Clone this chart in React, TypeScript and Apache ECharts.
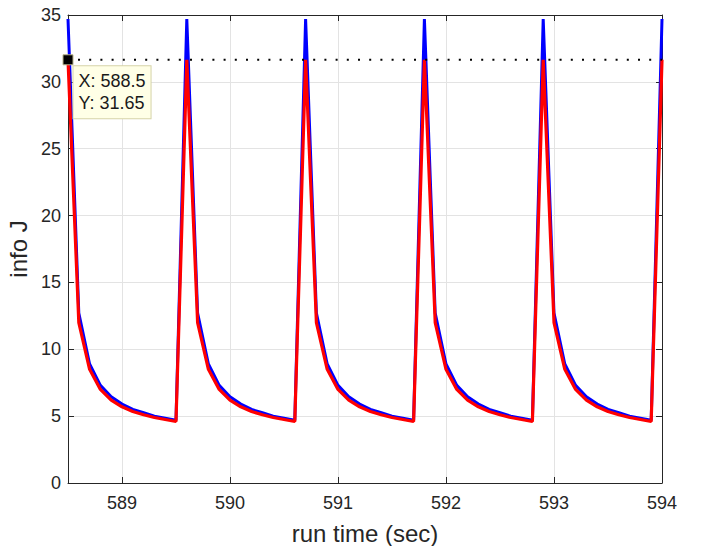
import React, { useEffect, useRef } from "react";
import * as echarts from "echarts";

const time = [
  588.5, 588.6, 588.7, 588.8, 588.9, 589.0, 589.1, 589.2, 589.3, 589.4, 589.5,
  589.6, 589.7, 589.8, 589.9, 590.0, 590.1, 590.2, 590.3, 590.4, 590.5,
  590.6, 590.7, 590.8, 590.9, 591.0, 591.1, 591.2, 591.3, 591.4, 591.5, 591.6,
  591.7, 591.8, 591.9, 592.0, 592.1, 592.2, 592.3, 592.4, 592.5, 592.6,
  592.7, 592.8, 592.9, 593.0, 593.1, 593.2, 593.3, 593.4, 593.5, 593.6, 593.7,
  593.8, 593.9, 594.0,
];

const blueJ = [
  34.7, 12.7, 8.9, 7.3, 6.45, 5.9, 5.5, 5.25, 5.0, 4.85, 4.7,
  34.7, 12.7, 8.9, 7.3, 6.45, 5.9, 5.5, 5.25, 5.0, 4.85,
  4.7, 34.7, 12.7, 8.9, 7.3, 6.45, 5.9, 5.5, 5.25, 5.0, 4.85,
  4.7, 34.7, 12.7, 8.9, 7.3, 6.45, 5.9, 5.5, 5.25, 5.0,
  4.85, 4.7, 34.7, 12.7, 8.9, 7.3, 6.45, 5.9, 5.5, 5.25, 5.0,
  4.85, 4.7, 34.7,
];

const redJ = [
  31.65, 12.0, 8.5, 7.0, 6.2, 5.7, 5.35, 5.1, 4.9, 4.75, 4.6,
  31.65, 12.0, 8.5, 7.0, 6.2, 5.7, 5.35, 5.1, 4.9, 4.75,
  4.6, 31.65, 12.0, 8.5, 7.0, 6.2, 5.7, 5.35, 5.1, 4.9, 4.75,
  4.6, 31.65, 12.0, 8.5, 7.0, 6.2, 5.7, 5.35, 5.1, 4.9,
  4.75, 4.6, 31.65, 12.0, 8.5, 7.0, 6.2, 5.7, 5.35, 5.1, 4.9,
  4.75, 4.6, 31.65,
];

const xTicks = [589, 590, 591, 592, 593, 594];
const xMin = 588.5;
const xMax = 594;
const yMin = 0;
const yMax = 35;
const yStep = 5;
const tipX = 588.5;
const tipY = 31.65;

const FONT = "'Liberation Sans', Arial, Helvetica, sans-serif";
const AXIS = "#262626";

export default function App() {
  const ref = useRef<HTMLDivElement>(null);

  useEffect(() => {
    document.body.style.margin = "0";
    if (!ref.current) return;
    const chart = echarts.init(ref.current, undefined, { renderer: "svg" });

    const blueData = time.map((t, i) => [t, blueJ[i]]);
    const redData = time.map((t, i) => [t, redJ[i]]);

    const xCommon = {
      type: "value" as const,
      min: xMin,
      max: xMax,
      splitNumber: 5,
      axisLine: { show: true, onZero: false, lineStyle: { color: AXIS, width: 1 } },
      axisTick: { show: true, inside: true, length: 6, lineStyle: { color: AXIS }, customValues: xTicks },
    };
    const yCommon = {
      type: "value" as const,
      min: yMin,
      max: yMax,
      interval: yStep,
      axisLine: { show: true, onZero: false, lineStyle: { color: AXIS, width: 1 } },
      axisTick: { show: true, inside: true, length: 6, lineStyle: { color: AXIS } },
    };

    chart.setOption({
      animation: false,
      textStyle: { fontFamily: FONT },
      grid: { left: 68, right: 39, top: 15, bottom: 63, containLabel: false, outerBoundsMode: "none" },
      xAxis: [
        {
          ...xCommon,
          position: "bottom",
          name: "run time (sec)",
          nameLocation: "middle",
          nameGap: 38,
          nameTextStyle: { fontSize: 24, color: AXIS, fontFamily: FONT },
          axisLabel: {
            show: true,
            fontSize: 18,
            color: AXIS,
            margin: 11,
            fontFamily: FONT,
            customValues: xTicks,
            formatter: (v: number) => (Number.isInteger(v) ? String(v) : ""),
          },
          splitLine: { show: true, lineStyle: { color: "#e3e3e3", width: 1 } },
        },
        {
          ...xCommon,
          position: "top",
          axisLabel: { show: false },
          splitLine: { show: false },
        },
      ],
      yAxis: [
        {
          ...yCommon,
          position: "left",
          name: "info J",
          nameLocation: "middle",
          nameGap: 32,
          nameTextStyle: { fontSize: 24, color: AXIS, fontFamily: FONT },
          axisLabel: { show: true, fontSize: 18, color: AXIS, margin: 7, fontFamily: FONT },
          splitLine: { show: true, lineStyle: { color: "#e3e3e3", width: 1 } },
        },
        {
          ...yCommon,
          position: "right",
          axisLabel: { show: false },
          splitLine: { show: false },
        },
      ],
      series: [
        {
          name: "blue",
          type: "line",
          data: blueData,
          showSymbol: false,
          symbol: "none",
          lineStyle: { color: "#0000ff", width: 3 },
          z: 2,
        },
        {
          name: "red",
          type: "line",
          data: redData,
          showSymbol: false,
          symbol: "none",
          lineStyle: { color: "#ff0000", width: 3.2 },
          z: 3,
          markPoint: {
            silent: true,
            symbol: "rect",
            symbolSize: 10,
            itemStyle: { color: "#000000", borderColor: "#b8b38a", borderWidth: 1 },
            label: {
              show: true,
              position: [11, 12],
              formatter: `X: ${tipX}\nY: ${tipY}`,
              fontSize: 18,
              lineHeight: 22,
              color: "#1a1a1a",
              fontFamily: FONT,
              align: "left",
              verticalAlign: "top",
              backgroundColor: "#ffffe6",
              borderColor: "#d6d3a8",
              borderWidth: 1,
              padding: [4, 5, 4, 5],
            },
            data: [{ coord: [tipX, tipY] }],
          },
        },
      ],
    });

    const p0 = chart.convertToPixel({ gridIndex: 0 }, [tipX, tipY]) as number[];
    const p1 = chart.convertToPixel({ gridIndex: 0 }, [xMax, tipY]) as number[];
    chart.setOption({
      graphic: [
        {
          type: "line",
          silent: true,
          z: 10,
          shape: { x1: p0[0] + 10, y1: p0[1], x2: p1[0], y2: p1[1] },
          style: { stroke: "#000000", lineWidth: 2, lineDash: [2, 9.2], lineCap: "butt" },
        },
      ],
    });

    return () => chart.dispose();
  }, []);

  return <div ref={ref} style={{ width: 701, height: 546 }} />;
}
